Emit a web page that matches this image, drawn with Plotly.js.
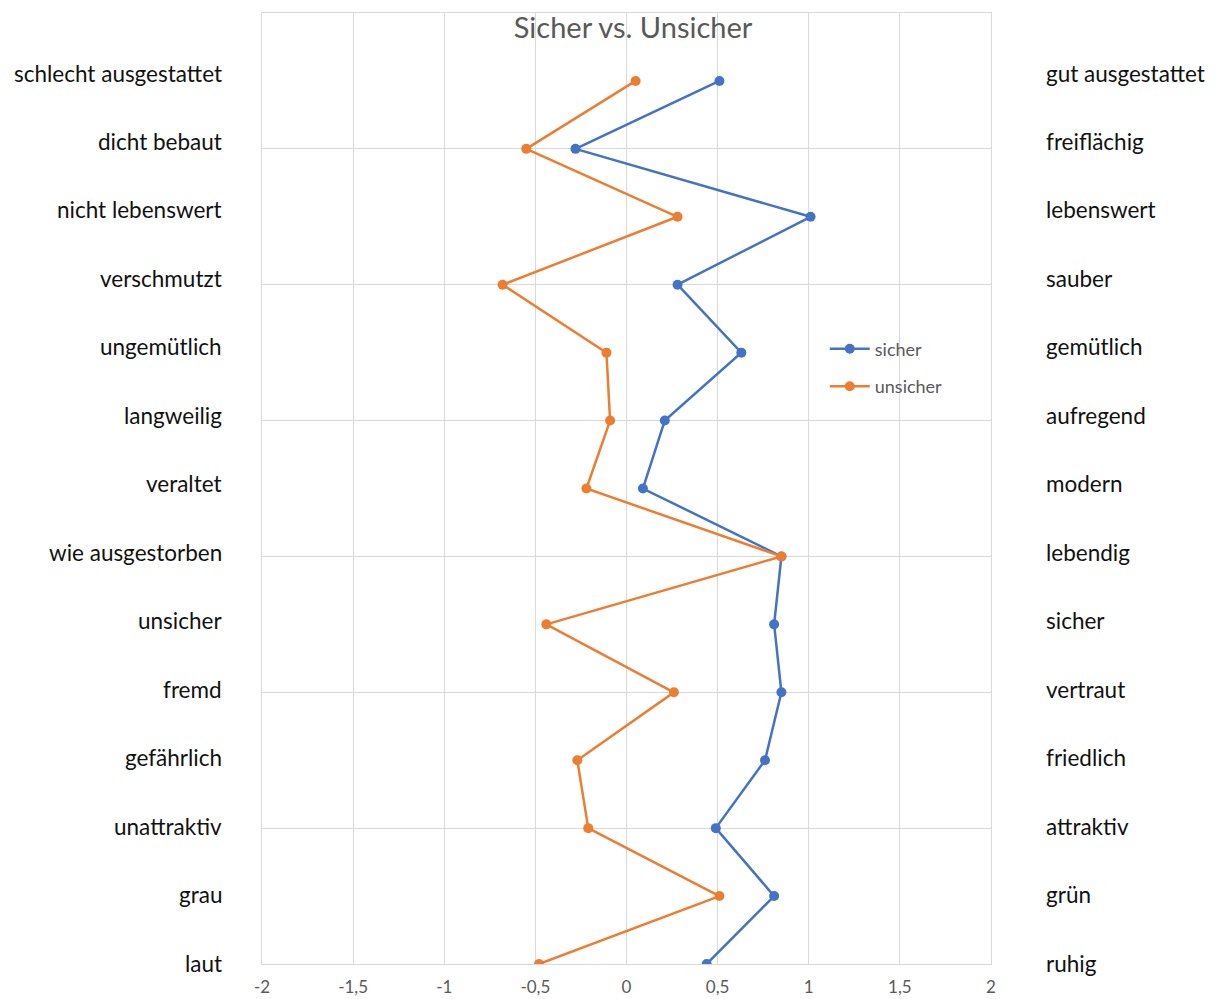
<!DOCTYPE html>
<html>
<head>
<meta charset="utf-8">
<script src="https://cdn.plot.ly/plotly-3.0.1.min.js"></script>
<style>
  html, body { margin: 0; padding: 0; background: #ffffff; }
  #chart { width: 1215px; height: 999px; }
</style>
</head>
<body>
<div id="chart"></div>
<script>
// Row labels, top to bottom
const leftLabels = ["schlecht ausgestattet", "dicht bebaut", "nicht lebenswert", "verschmutzt",
  "ungemütlich", "langweilig", "veraltet", "wie ausgestorben", "unsicher", "fremd",
  "gefährlich", "unattraktiv", "grau", "laut"];
const rightLabels = ["gut ausgestattet", "freiflächig", "lebenswert", "sauber",
  "gemütlich", "aufregend", "modern", "lebendig", "sicher", "vertraut",
  "friedlich", "attraktiv", "grün", "ruhig"];

// Series values, top to bottom
const sicherValues = [0.51, -0.28, 1.01, 0.28, 0.63, 0.21, 0.09, 0.85, 0.81, 0.85, 0.76, 0.49, 0.81, 0.44];
const unsicherValues = [0.05, -0.55, 0.28, -0.68, -0.11, -0.09, -0.22, 0.85, -0.44, 0.26, -0.27, -0.21, 0.51, -0.48];

const xTickVals = [-2, -1.5, -1, -0.5, 0, 0.5, 1, 1.5, 2];
const xTickLabels = ["-2", "-1,5", "-1", "-0,5", "0", "0,5", "1", "1,5", "2"];

const n = leftLabels.length;
const rowPos = leftLabels.map((_, i) => n - 1 - i);

// label column: evenly spread between top and bottom (paper fractions)
const labelTop = 0.9369, labelBottom = 0.001;
const labelPos = leftLabels.map((_, i) => labelTop - i * (labelTop - labelBottom) / (n - 1));

const labelFont = { family: "Lato, 'Open Sans', sans-serif", size: 22.5, color: "#111111" };

const annotations = [];
leftLabels.forEach((t, i) => {
  annotations.push({ text: t, xref: "paper", yref: "paper", x: 0, y: labelPos[i], xanchor: "right", yanchor: "middle",
    xshift: -38, showarrow: false, font: labelFont });
});
rightLabels.forEach((t, i) => {
  annotations.push({ text: t, xref: "paper", yref: "paper", x: 1, y: labelPos[i], xanchor: "left", yanchor: "middle",
    xshift: 53, showarrow: false, font: labelFont });
});

const traces = [
  { name: "sicher", x: sicherValues, y: rowPos, type: "scatter", mode: "lines+markers",
    line: { color: "#4472C4", width: 2.5 }, marker: { color: "#4472C4", size: 10 }, legendgroup: "a" },
  { name: "unsicher", x: unsicherValues, y: rowPos, type: "scatter", mode: "lines+markers",
    line: { color: "#ED7D31", width: 2.5 }, marker: { color: "#ED7D31", size: 10 }, legendgroup: "b" }
];

const layout = {
  width: 1215, height: 999,
  margin: { l: 262, r: 224, t: 13, b: 35 },
  paper_bgcolor: "#ffffff", plot_bgcolor: "#ffffff",
  separators: ", ",
  font: { family: "Lato, 'Open Sans', sans-serif", color: "#595959" },
  title: { text: "Sicher vs. Unsicher", x: 0.509, xref: "paper", xanchor: "center",
    y: 0.972, yref: "container", yanchor: "middle",
    font: { family: "Lato, 'Open Sans', sans-serif", size: 29, color: "#595959" } },
  xaxis: { range: [-2, 2], tickvals: xTickVals, ticktext: xTickLabels, showgrid: true, gridcolor: "#d9d9d9", gridwidth: 1,
    zeroline: false, showline: true, mirror: true, linecolor: "#d9d9d9", linewidth: 1, ticks: "",
    ticklabelstandoff: 8,
    tickfont: { size: 17, color: "#595959" }, fixedrange: true },
  yaxis: { range: [0, n], tickmode: "linear", tick0: 0, dtick: 2, showgrid: true, gridcolor: "#d9d9d9",
    gridwidth: 1, zeroline: false, showticklabels: false, showline: true, mirror: true, linecolor: "#d9d9d9",
    ticks: "", fixedrange: true },
  showlegend: true,
  legend: { x: 0.772, y: 0.666, xanchor: "left", yanchor: "top", bgcolor: "rgba(0,0,0,0)",
    font: { size: 18, color: "#595959" }, tracegroupgap: 11, traceorder: "grouped", itemwidth: 40 },
  annotations: annotations
};

Plotly.newPlot("chart", traces, layout, { displayModeBar: false, staticPlot: true });
</script>
</body>
</html>
